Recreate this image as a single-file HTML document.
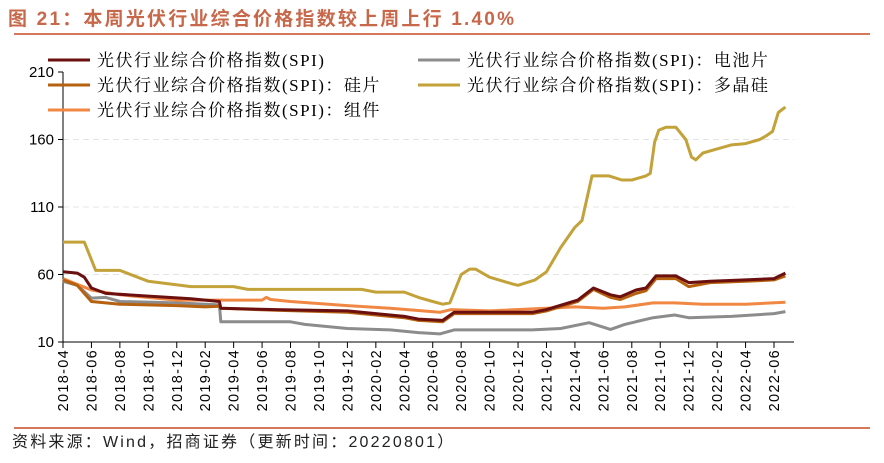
<!DOCTYPE html>
<html><head><meta charset="utf-8"><style>
body{margin:0;background:#fff;width:884px;height:458px;overflow:hidden;font-family:"Liberation Sans","Noto Sans CJK SC",sans-serif}
</style></head><body>
<svg width="884" height="458" id="svg" xmlns="http://www.w3.org/2000/svg">
<text x="8" y="25" font-size="19" font-weight="bold" letter-spacing="2.2" fill="#c8684a" font-family="Liberation Sans,Noto Sans CJK SC,sans-serif">图 21：本周光伏行业综合价格指数较上周上行 1.40%</text>
<line x1="14" y1="34" x2="870" y2="34" stroke="#d4785a" stroke-width="2"/>
<line x1="14" y1="428" x2="870" y2="428" stroke="#d4785a" stroke-width="2"/>
<text x="12" y="447" font-size="16" letter-spacing="2.2" fill="#222" font-family="Liberation Sans,Noto Sans CJK SC,sans-serif">资料来源：Wind，招商证券（更新时间：20220801）</text>
<g id="plot"></g>
<g id="legend"></g>
</svg>
<script>
const yTicks=[10,60,110,160,210];
const xLabels=["2018-04","2018-06","2018-08","2018-10","2018-12","2019-02","2019-04","2019-06","2019-08","2019-10","2019-12","2020-02","2020-04","2020-06","2020-08","2020-10","2020-12","2021-02","2021-04","2021-06","2021-08","2021-10","2021-12","2022-02","2022-04","2022-06"];
const seriesNames=["光伏行业综合价格指数(SPI)","光伏行业综合价格指数(SPI)：硅片","光伏行业综合价格指数(SPI)：组件","光伏行业综合价格指数(SPI)：电池片","光伏行业综合价格指数(SPI)：多晶硅"];
const spiM=[0,1,1.5,2,3,6,9,11,11.1,15,20,22,24,25,26.7,27.5,33,34,36.2,37.3,38.5,39.2,40.3,41,41.7,43.1,44,45.5,48,50,50.8];
const spiV=[62,61,58,50,46,44,42,40,35,34,33,31,29,27,26,32,32,34,41,50,45,43.5,48.5,50,59,59,54,55,56,57,61];
const wafM=[0,1,2,4,8,10,11,11.1,15,20,22,24,25,26.7,27.5,33,34,36.2,37.3,38.5,39.2,40.3,41,41.7,43.1,44,45.5,48,50,50.8];
const wafV=[56,52,40,38,37,36,36.5,35,33.5,32,30,28,26,25,31,31,33,40,49,43,41.5,46,48,57,57,51,54,55,56,59];
const modM=[0,2,4,8,11,14,14.3,14.6,16,20,23,26.5,27.3,30,34,36,38,39.5,41.5,43,45,48,50.8];
const modV=[57,48.5,45,41,41,41,43,41.5,40,37,35,32,34,33,35,36,35,36,39,39,38,38,39.5];
const celM=[0,1,2,3,4,8,11,11.1,16,17,20,23,25,26.5,27.5,33,35,37,38.5,39.5,41.5,43,44,47,50,50.8];
const celV=[55,52,42.5,43,40,39,37.5,25,25,23,20,19,17,16,19,19,20,24.3,19.3,23,28,30,28,29,31,32.5];
const polM=[0,1.5,2.3,4,6,9,12,13,21,22,24,25,26,26.7,27.2,28,28.6,29,30,31.6,32,33.2,34,35,36,36.5,37.2,38.4,39.3,40,41,41.3,41.6,41.9,42.4,43.1,43.8,44.2,44.5,45,46,47,48,49,49.5,49.9,50.3,50.8];
const polV=[84,84,63,63,55,51,51,49,49,47,47,43,40,38,39,60,64,64,58,53,52,56,62,80,95,100,133,133,130,130,133,135,158,167,169,169,160,147,145,150,153,156,157,160,163,166,180,184];
const colors=["#6b0f0f","#b5610f","#f08844","#8c8c8c","#c3a23a"];
const ns="http://www.w3.org/2000/svg";
const x0=63,mPx=14.22,yTop=72,yBot=342;
const X=m=>x0+m*mPx;
const Y=v=>yBot-(v-10)*(yBot-yTop)/200;
const plot=document.getElementById('plot');
function mk(t,a,p){const e=document.createElementNS(ns,t);for(const k in a)e.setAttribute(k,a[k]);(p||plot).appendChild(e);return e;}
yTicks.forEach(v=>{
  if(v>10&&v<210){const g=mk('line',{x1:x0,x2:794,y1:Y(v),y2:Y(v),stroke:'#e4e4e4','stroke-dasharray':'6,4'});
  
  }
  const tk=mk('line',{x1:x0-5,x2:x0,y1:Y(v),y2:Y(v),stroke:'#000'});
  
  
  const t=mk('text',{x:x0-9,y:Y(v)+5,'text-anchor':'end','font-size':15,fill:'#000'});
  t.textContent=v;
  
  
});
const ya=mk('line',{x1:x0,x2:x0,y1:yTop,y2:yBot,stroke:'#000'});


const xa=mk('line',{x1:x0,x2:794,y1:yBot,y2:yBot,stroke:'#000'});


xLabels.forEach((l,i)=>{
  const xx=X(i*2);
  const tk=mk('line',{x1:xx,x2:xx,y1:yBot,y2:yBot+6,stroke:'#000'});
  
  
  const t=mk('text',{x:0,y:0,'text-anchor':'end','font-size':14.5,fill:'#000','letter-spacing':'1.3',transform:`translate(${xx+5},${yBot+7}) rotate(-90)`});
  t.textContent=l;
  
  
});
const data=[[spiM,spiV],[wafM,wafV],[modM,modV],[celM,celV],[polM,polV]];
const names=['line-spi','line-wafer','line-module','line-cell','line-polysilicon'];
[4,3,2,1,0].forEach(i=>{
  const [ms,vs]=data[i];
  const p=mk('polyline',{points:ms.map((m,j)=>X(m).toFixed(1)+','+Y(vs[j]).toFixed(1)).join(' '),fill:'none',stroke:colors[i],'stroke-width':3,'stroke-linejoin':'round'});
  
  
});
const leg=document.getElementById('legend');
const pos=[[48,60],[48,85],[48,110],[418,60],[418,85]];
seriesNames.forEach((n,i)=>{
  const [lx,ly]=pos[i];
  const g=mk('g',{},leg);
  
  
  mk('line',{x1:lx,x2:lx+42,y1:ly,y2:ly,stroke:colors[i],'stroke-width':3},g);
  const t=mk('text',{x:lx+49,y:ly+6,'font-size':17,fill:'#000','font-family':'Liberation Serif,Noto Serif CJK SC,serif','letter-spacing':'1.5'},g);
  t.textContent=n;
});
</script>
</body></html>
